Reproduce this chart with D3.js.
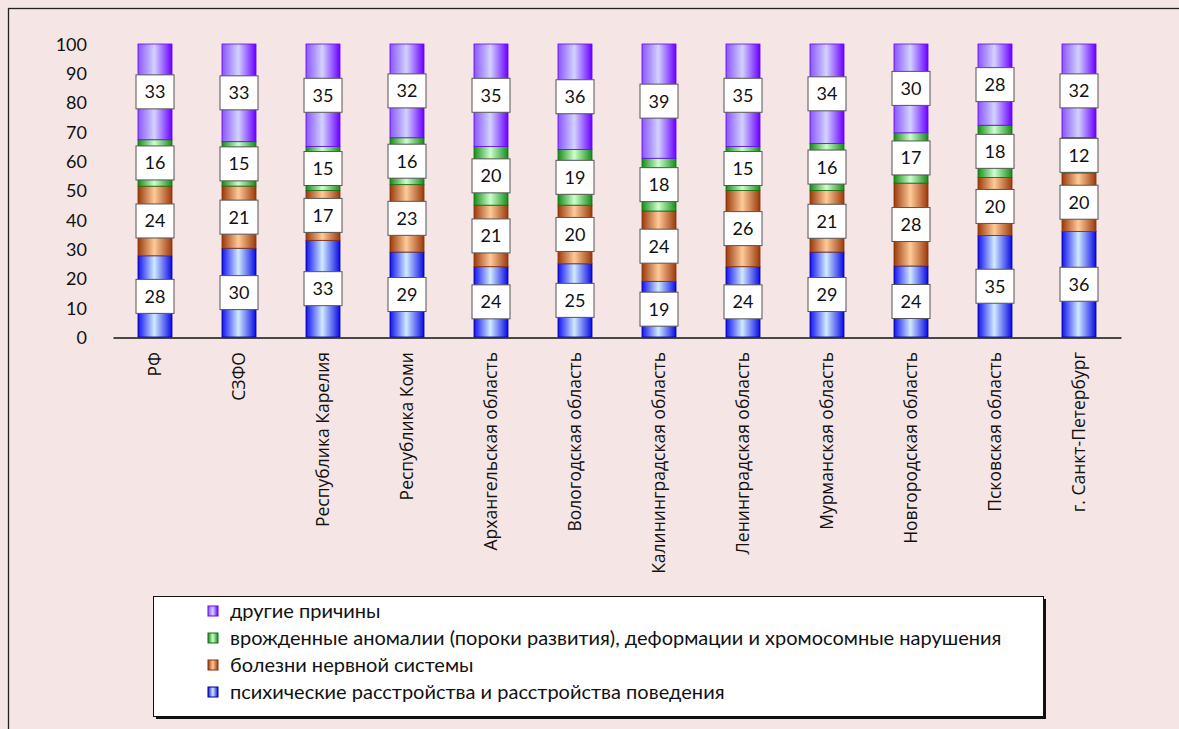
<!DOCTYPE html>
<html>
<head>
<meta charset="utf-8">
<script src="https://cdn.jsdelivr.net/npm/d3@7"></script>
<style>
  body { margin: 0; background: #f5e5e5; }
  svg { display: block; }
  .tick text { font-family: Lato, "Open Sans", sans-serif; }
</style>
</head>
<body>
<div id="chart"></div>
<script>
// регионы
const categories = ["РФ", "СЗФО", "Республика Карелия", "Республика Коми", "Архангельская область",
  "Вологодская область", "Калининградская область", "Ленинградская область", "Мурманская область",
  "Новгородская область", "Псковская область", "г. Санкт-Петербург"];

const seriesNames = [
  "психические расстройства и расстройства поведения",
  "болезни нервной системы",
  "врожденные аномалии (пороки развития), деформации и хромосомные нарушения",
  "другие причины"
];

const psych = [28, 30, 33, 29, 24, 25, 19, 24, 29, 24, 35, 36];
const nerv = [24, 21, 17, 23, 21, 20, 24, 26, 21, 28, 20, 20];
const congenital = [16, 15, 15, 16, 20, 19, 18, 15, 16, 17, 18, 12];
const other = [33, 33, 35, 32, 35, 36, 39, 35, 34, 30, 28, 32];

const yTicks = [0, 10, 20, 30, 40, 50, 60, 70, 80, 90, 100];

const keys = ["psych", "nerv", "congenital", "other"];
const rows = categories.map((c, i) => ({
  cat: c, psych: psych[i], nerv: nerv[i], congenital: congenital[i], other: other[i]
}));

const W = 1179, H = 729;
const svg = d3.select("#chart").append("svg").attr("width", W).attr("height", H);

svg.append("rect").attr("width", W).attr("height", H).attr("fill", "#f5e5e5");
// outer frame
svg.append("rect")
  .attr("x", 8.5).attr("y", 8.5).attr("width", W + 20).attr("height", H + 20)
  .attr("fill", "none").attr("stroke", "#222").attr("stroke-width", 1.3);

// gradients
const grads = {
  psych: ["#1212f0", "#cfeaff", "#0a0ae6"],
  nerv: ["#9a3a0c", "#ffca98", "#9a3a0c"],
  congenital: ["#188c18", "#ccffcc", "#188c18"],
  other: ["#8a55ff", "#d2d2ff", "#6a00ff"]
};
const defs = svg.append("defs");
keys.forEach(k => {
  const g = defs.append("linearGradient").attr("id", "g-" + k)
    .attr("x1", "0%").attr("x2", "100%").attr("y1", "0%").attr("y2", "0%");
  g.append("stop").attr("offset", "0%").attr("stop-color", grads[k][0]);
  g.append("stop").attr("offset", "48%").attr("stop-color", grads[k][1]);
  g.append("stop").attr("offset", "100%").attr("stop-color", grads[k][2]);
});
const edge = { psych: "#000090", nerv: "#8a3008", congenital: "#107010", other: "#6a00ff" };

const x = d3.scaleBand().domain(categories).range([113, 1121]).paddingInner(0.595).paddingOuter(0.2975);
const y = d3.scaleLinear().domain([0, 1]).range([337, 44]);

const stacked = d3.stack().keys(keys).offset(d3.stackOffsetExpand)(rows);

const layers = svg.append("g").selectAll("g").data(stacked).join("g")
  .attr("fill", d => "url(#g-" + d.key + ")")
  .attr("stroke", d => edge[d.key]).attr("stroke-width", 0.8);

layers.selectAll("rect").data(d => d).join("rect")
  .attr("x", d => x(d.data.cat))
  .attr("y", d => y(d[1]))
  .attr("width", x.bandwidth())
  .attr("height", d => y(d[0]) - y(d[1]));

// x axis line
svg.append("g").attr("transform", "translate(0,337.5)")
  .call(d3.axisBottom(x).tickSize(0).tickFormat(""))
  .call(g => g.select(".domain").attr("stroke", "#111").attr("stroke-width", 1.3));

// y axis labels
svg.append("g").attr("transform", "translate(87,0)")
  .call(d3.axisLeft(y).tickValues(yTicks.map(v => v / 100)).tickSize(0).tickPadding(0)
    .tickFormat(d => Math.round(d * 100)))
  .call(g => g.select(".domain").remove())
  .call(g => g.selectAll("text").attr("font-size", 18).attr("fill", "#111").attr("dy", "0.35em"));

// category labels
svg.append("g").selectAll("text").data(categories).join("text")
  .attr("transform", d => `translate(${x(d) + x.bandwidth() / 2 + 6},352) rotate(-90)`)
  .attr("text-anchor", "end")
  .attr("font-family", "'Open Sans', sans-serif")
  .attr("font-size", 17.5)
  .attr("fill", "#111")
  .text(d => d);

// data labels
const labels = svg.append("g");
stacked.forEach(layer => {
  layer.forEach(d => {
    const cx = x(d.data.cat) + x.bandwidth() / 2;
    const cy = y((d[0] + d[1]) / 2);
    labels.append("rect")
      .attr("x", cx - 19).attr("y", cy - 17).attr("width", 38).attr("height", 34)
      .attr("fill", "#fff").attr("stroke", "#555").attr("stroke-width", 1);
    labels.append("text")
      .attr("x", cx).attr("y", cy).attr("dy", "0.36em")
      .attr("text-anchor", "middle")
      .attr("font-family", "Lato, sans-serif").attr("font-size", 18).attr("fill", "#111")
      .text(d.data[layer.key]);
  });
});

// legend
const lg = svg.append("g");
lg.append("rect").attr("x", 156).attr("y", 599).attr("width", 890).attr("height", 120).attr("fill", "#111");
lg.append("rect").attr("x", 153.5).attr("y", 596.5).attr("width", 890).attr("height", 120)
  .attr("fill", "#fff").attr("stroke", "#111").attr("stroke-width", 1);
const legendKeys = keys.slice().reverse();
const ly = d3.scalePoint().domain(legendKeys).range([611, 692]);
const items = lg.selectAll("g.item").data(legendKeys).join("g").attr("class", "item")
  .attr("transform", k => `translate(0,${ly(k)})`);
items.append("rect").attr("x", 208).attr("y", -5).attr("width", 10).attr("height", 10)
  .attr("fill", k => "url(#g-" + k + ")").attr("stroke", k => edge[k]).attr("stroke-width", 1);
items.append("text").attr("x", 230).attr("dy", "0.35em")
  .attr("font-family", "Lato, sans-serif").attr("font-size", 20).attr("fill", "#111")
  .text(k => seriesNames[keys.indexOf(k)]);
</script>
</body>
</html>
